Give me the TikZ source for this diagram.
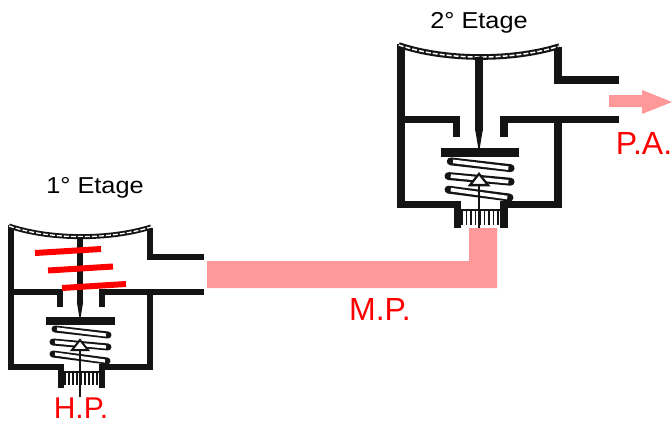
\documentclass[tikz,border=0pt]{standalone}
\usepackage{fontspec}
\setmainfont{Liberation Sans}
\definecolor{pipepink}{HTML}{FF9999}
\definecolor{inkk}{HTML}{141414}
\tikzset{
  lab/.style={inner sep=0pt,font=\fontsize{32}{32}\selectfont,text=red},
  stagelab/.style={inner sep=0pt,font=\fontsize{23}{24}\selectfont,text=black,xscale=1.1},
  redbar/.style={draw=red,line width=6pt},
  pipe/.style={fill=pipepink,draw=none}
}
\newcommand{\regstage}[3]{%
\begin{scope}[shift={(#1,#2)},scale=#3]
 \def\ss{#3}
 % walls
 \draw[inkk,line width=\ss*6.5pt,miter limit=10]
   (-69,-1)--(-69,141)--(-19,141)--(-19,162);
 \draw[inkk,line width=\ss*6.6pt]
   (70,2)--(70,31)--(124,31);
 \draw[inkk,line width=\ss*6.6pt] (-69,66)--(-20,66)--(-20,81);
 \draw[inkk,line width=\ss*6.6pt] (22,81)--(22,66)--(124,66);
 \draw[inkk,line width=\ss*6.5pt] (70,66)--(70,141)--(22,141)--(22,162);
 % diaphragm
 \draw[inkk,line width=\ss*5pt] (-71,0) .. controls (-30,14) and (30,14) .. (71,1);
 \draw[white,line width=\ss*1.3pt,dash pattern=on 5pt off 2pt] (-71,0) .. controls (-30,14) and (30,14) .. (71,1);
 % stem and tip
 \draw[inkk,line width=\ss*6.5pt] (0,11)--(0,76);
 \fill[inkk] (-3.2,76)--(3.2,76)--(0.7,91)--(-0.7,91)--cycle;
 % disc
 \fill[inkk] (-34,91) rectangle (35,99);
 % spring
 \foreach \xa/\ya/\xb/\yb in {-25/103/28/109,-27/116/28/121,-27/128/27/135}{
   \draw[inkk,line width=\ss*7pt,line cap=round] (\xa,\ya)--(\xb,\yb);
   \draw[white,line width=\ss*3.2pt] (\xa+2,\ya)--(\xb-2,\yb);
 }
 % filter
 \foreach \fx in {-15,-11,...,17}{
   \draw[inkk,line width=\ss*1.4pt] (\fx,146)--(\fx,159);
 }
 \draw[inkk,line width=\ss*1.2pt] (-17,146)--(19,146);
 % valve seat
 \draw[inkk,line width=\ss*1.3pt] (0,124)--(0,171);
 \draw[inkk,fill=white,line width=\ss*2pt,line join=miter] (0,114)--(8,124)--(-8,124)--cycle;
\end{scope}}
\begin{document}
\begin{tikzpicture}[x=1pt,y=-1pt]
\useasboundingbox (0,0) rectangle (672,423);
\fill[white] (0,0) rectangle (672,423);
\regstage{80}{226}{1}
\regstage{479}{45}{1.13}
% pressure marks in first stage
\draw[redbar] (35,253)--(101,249);
\draw[redbar] (48,270.5)--(113,266.5);
\draw[redbar] (62,288)--(126,284);
% pipe
\fill[pipe] (207,261)--(469,261)--(469,228)--(497,228)--(497,288)--(207,288)--cycle;
% outlet arrow
\fill[pipe] (609,95)--(642,95)--(642,90)--(672,102)--(642,114)--(642,107)--(609,107)--cycle;
% labels
\node[stagelab] (s1) at (95,188) {1° Etage};
\node[stagelab] (s2) at (479,23) {2° Etage};
\node[lab,font=\fontsize{30}{30}\selectfont] (hp) at (81,408) {H.P.};
\node[lab] (mp) at (380,309) {M.P.};
\node[lab] (pa) at (644,143) {P.A.};
\end{tikzpicture}
\end{document}
